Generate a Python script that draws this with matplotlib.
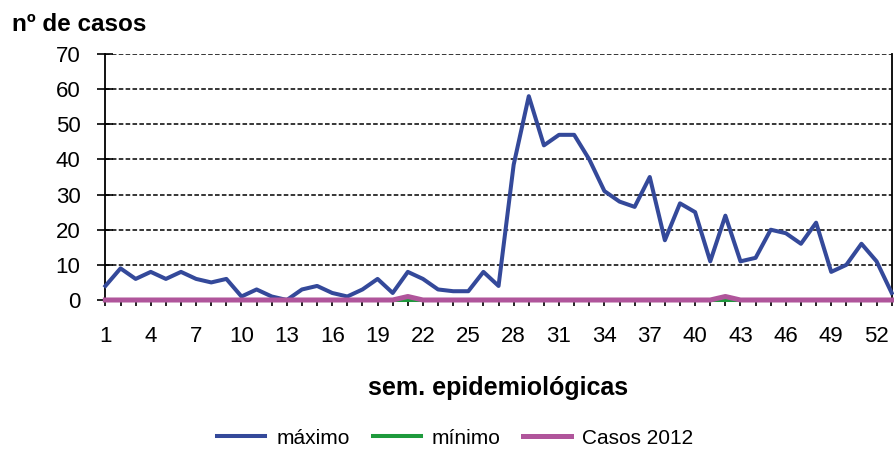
import matplotlib
matplotlib.use("Agg")
import matplotlib.pyplot as plt

plt.rcParams['font.family'] = ['Liberation Sans', 'DejaVu Sans']

# Epidemiological weeks 1..53
weeks = list(range(1, 54))

maximo = [4, 9, 6, 8, 6, 8, 6, 5, 6, 1,
          3, 1, 0, 3, 4, 2, 1, 3, 6, 2,
          8, 6, 3, 2.5, 2.5, 8, 4, 38.5, 58, 44,
          47, 47, 40, 31, 28, 26.5, 35, 17, 27.5, 25,
          11, 24, 11, 12, 20, 19, 16, 22, 8, 10,
          16, 11, 2]
minimo = [0] * 53
casos_2012 = [0] * 20 + [1] + [0] * 20 + [1] + [0] * 11

xtick_labels = list(range(1, 54, 3))
yticks = list(range(0, 71, 10))

W, H = 895, 450
fig = plt.figure(figsize=(W / 100, H / 100), dpi=100)
ax = fig.add_axes([105.4 / W, 1 - 300 / H, (891.7 - 105.4) / W, 246 / H])

ax.plot(weeks, maximo, color='#34499A', lw=2.9, label='máximo', zorder=4,
        clip_on=False)
ax.plot(weeks, minimo, color='#1E9A3C', lw=2.9, label='mínimo', zorder=3,
        clip_on=False)
ax.plot(weeks, casos_2012, color='#B0559B', lw=3.6, label='Casos 2012', zorder=5,
        clip_on=False)

ax.set_xlim(1, 53)
ax.set_ylim(0, 70)
ax.set_yticks(yticks)
ax.set_xticks(xtick_labels)
ax.set_xticks(weeks, minor=True)
ax.tick_params(axis='y', direction='inout', length=12, width=1.2, labelsize=16, pad=12)
ax.tick_params(axis='x', which='both', direction='out', length=4.5, width=1.2,
               labelsize=16, pad=14)

ax.yaxis.grid(True, color='black', linestyle=(0, (3, 1.5)), lw=1.1)
ax.set_axisbelow(True)
ax.spines['top'].set_visible(False)
ax.spines['left'].set_linewidth(1.3)
ax.spines['right'].set_linewidth(1.3)
ax.spines['bottom'].set_color('#999999')
ax.spines['bottom'].set_linewidth(1.2)

fig.text(12 / W, 1 - 31 / H, 'nº de casos', fontsize=17.5, fontweight='bold',
         ha='left', va='baseline')
fig.text(498.5 / W, 1 - 388 / H, 'sem. epidemiológicas', fontsize=18,
         fontweight='bold', ha='center', va='center')

fig.legend(loc='center', bbox_to_anchor=(455.5 / W, 1 - 438 / H), ncol=3,
           frameon=False, fontsize=15, handlelength=2.3, columnspacing=1.1,
           handletextpad=0.53, borderpad=0, borderaxespad=0)

fig.savefig('out.png', dpi=100)
